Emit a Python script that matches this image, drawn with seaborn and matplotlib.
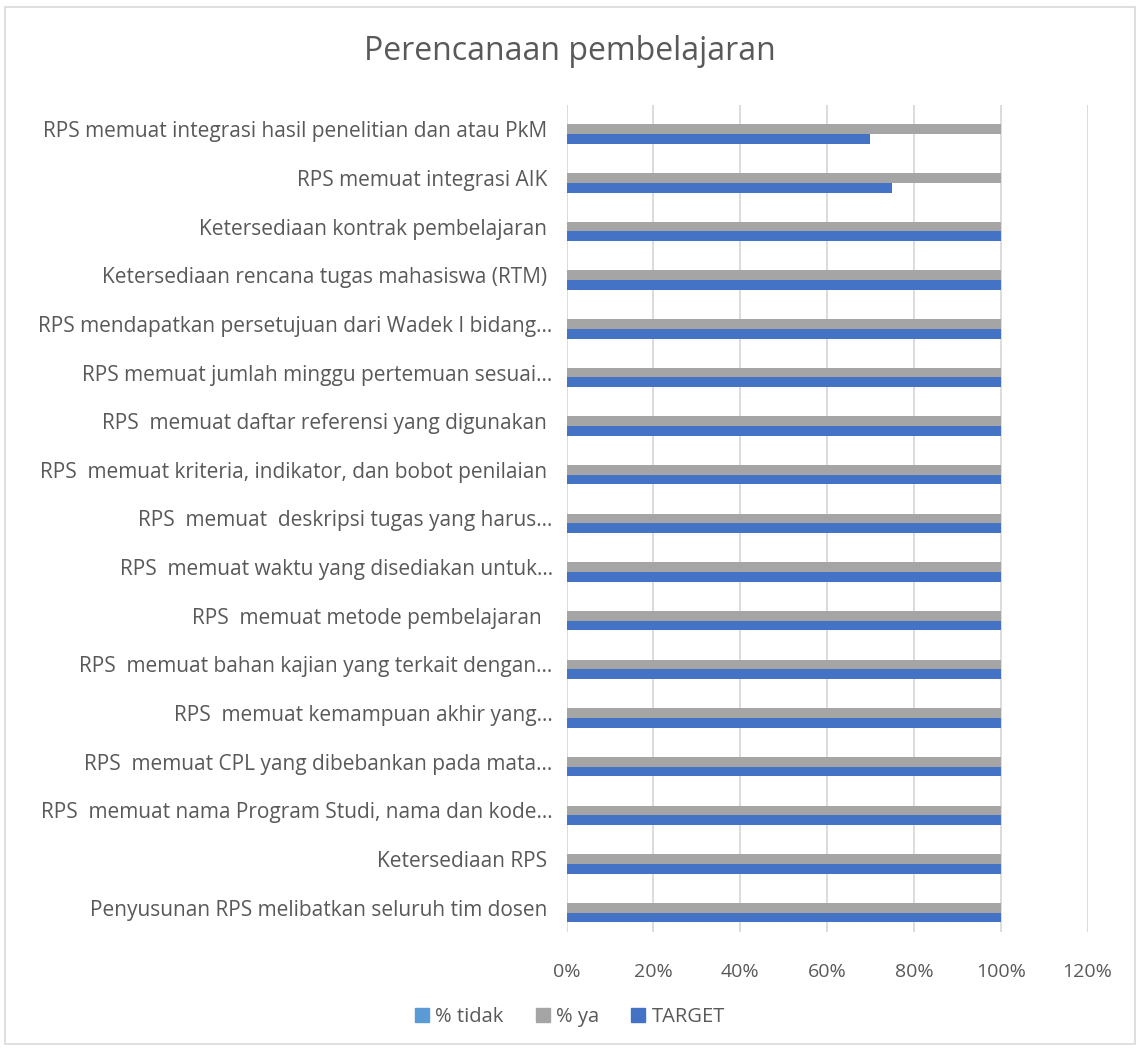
import pandas as pd
import matplotlib.pyplot as plt
import matplotlib.patches as mpatches
import seaborn as sns
from matplotlib.ticker import PercentFormatter

# items, listed top to bottom as in the chart
items = [
    "RPS memuat integrasi hasil penelitian dan atau PkM ",
    "RPS memuat integrasi AIK ",
    "Ketersediaan kontrak pembelajaran ",
    "Ketersediaan rencana tugas mahasiswa (RTM) ",
    "RPS mendapatkan persetujuan dari Wadek I bidang…",
    "RPS memuat jumlah minggu pertemuan sesuai…",
    "RPS  memuat daftar referensi yang digunakan ",
    "RPS  memuat kriteria, indikator, dan bobot penilaian ",
    "RPS  memuat  deskripsi tugas yang harus…",
    "RPS  memuat waktu yang disediakan untuk…",
    "RPS  memuat metode pembelajaran  ",
    "RPS  memuat bahan kajian yang terkait dengan…",
    "RPS  memuat kemampuan akhir yang…",
    "RPS  memuat CPL yang dibebankan pada mata…",
    "RPS  memuat nama Program Studi, nama dan kode…",
    "Ketersediaan RPS ",
    "Penyusunan RPS melibatkan seluruh tim dosen ",
]
pct_tidak = [0, 0, 0, 0, 0, 0, 0, 0, 0, 0, 0, 0, 0, 0, 0, 0, 0]
pct_ya = [1.0, 1.0, 1.0, 1.0, 1.0, 1.0, 1.0, 1.0, 1.0, 1.0, 1.0, 1.0, 1.0, 1.0, 1.0, 1.0, 1.0]
target = [0.70, 0.75, 1.0, 1.0, 1.0, 1.0, 1.0, 1.0, 1.0, 1.0, 1.0, 1.0, 1.0, 1.0, 1.0, 1.0, 1.0]

series = ["% tidak", "% ya", "TARGET"]
colors = ["#5B9BD5", "#A5A5A5", "#4472C4"]

df = pd.DataFrame({
    "item": items * 3,
    "series": [series[0]] * len(items) + [series[1]] * len(items) + [series[2]] * len(items),
    "value": pct_tidak + pct_ya + target,
})

sns.set_style("white")
plt.rcParams["font.family"] = ["Open Sans", "DejaVu Sans"]
text_col = "#595959"

fig = plt.figure(figsize=(11.4, 10.5), dpi=100)
ax = fig.add_axes([0.497, 0.1124, 0.457, 0.7876])

sns.barplot(data=df, x="value", y="item", hue="series", hue_order=series,
            palette=colors, orient="h", width=0.6, saturation=1,
            legend=False, ax=ax, linewidth=0)

ax.set_xlim(0, 1.2)
ax.set_xticks([0, 0.2, 0.4, 0.6, 0.8, 1.0, 1.2])
ax.xaxis.set_major_formatter(PercentFormatter(1.0, decimals=0))
ax.grid(axis="x", color="#D9D9D9", linewidth=1.3)
ax.set_axisbelow(True)
for s in ax.spines.values():
    s.set_visible(False)
ax.set_xlabel("")
ax.set_ylabel("")
ax.tick_params(axis="both", length=0, colors=text_col)
ax.tick_params(axis="y", pad=10, labelsize=15)
ax.tick_params(axis="x", pad=22, labelsize=14)

fig.text(0.5, 0.951, "Perencanaan pembelajaran", ha="center", va="center",
         fontsize=23, color=text_col)

handles = [mpatches.Patch(color=c, label=l) for c, l in zip(colors, series)]
fig.legend(handles=handles, loc="center", bbox_to_anchor=(0.5, 0.031), ncol=3,
           frameon=False, fontsize=14.5, labelcolor=text_col,
           handlelength=0.7, handleheight=0.7, handletextpad=0.3, columnspacing=1.6)

fig.patches.append(mpatches.Rectangle((0.004, 0.006), 0.992, 0.987, transform=fig.transFigure,
                                      fill=False, edgecolor="#D9D9D9", linewidth=1.2))

fig.savefig("out.png", dpi=100)
